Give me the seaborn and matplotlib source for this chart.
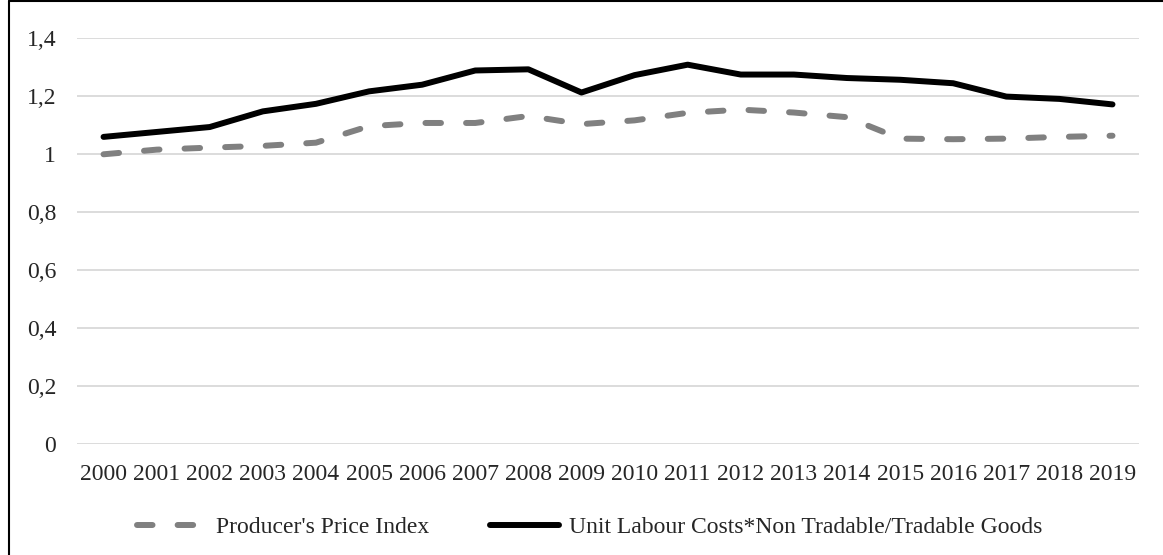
import pandas as pd
import seaborn as sns
import matplotlib.pyplot as plt
from matplotlib.lines import Line2D

years = list(range(2000, 2020))
ppi = [1.0, 1.016, 1.023, 1.029, 1.04, 1.097, 1.108, 1.108, 1.132, 1.104,
       1.117, 1.143, 1.154, 1.144, 1.128, 1.054, 1.052, 1.054, 1.06, 1.064]
ulc = [1.06, 1.077, 1.094, 1.148, 1.174, 1.217, 1.24, 1.289, 1.293, 1.213,
       1.273, 1.309, 1.275, 1.275, 1.263, 1.257, 1.245, 1.199, 1.191, 1.172]
lab_ppi = "Producer's Price Index"
lab_ulc = "Unit Labour Costs*Non Tradable/Tradable Goods"
yticks = [0, 0.2, 0.4, 0.6, 0.8, 1.0, 1.2, 1.4]
ytick_labels = ["0", "0,2", "0,4", "0,6", "0,8", "1", "1,2", "1,4"]

df = pd.DataFrame({"year": years * 2,
                   "value": ppi + ulc,
                   "series": [lab_ppi] * len(years) + [lab_ulc] * len(years)})

sns.set_style("white")
plt.rcParams['font.family'] = ['Liberation Serif', 'DejaVu Serif']

fig = plt.figure(figsize=(11.63, 5.55), dpi=100)
ax = fig.add_axes([0.0662, 0.1995, 0.9132, 0.7315])

lw = 4.3
dash = (2.6, 4.2)
sns.lineplot(data=df, x="year", y="value", hue="series", style="series",
             palette={lab_ppi: "#808080", lab_ulc: "black"},
             dashes={lab_ppi: dash, lab_ulc: ""},
             linewidth=lw, ax=ax, legend=False)
for ln in ax.lines:
    ln.set_dash_capstyle("round")
    ln.set_solid_capstyle("round")
    ln.set_solid_joinstyle("round")

ax.set_xlim(1999.5, 2019.5)
ax.set_ylim(0, 1.4)
ax.set_xticks(years)
ax.set_xticklabels([str(y) for y in years], fontsize=17)
ax.set_yticks(yticks)
ax.set_yticklabels(ytick_labels, fontsize=17)
ax.yaxis.grid(True, color="#d9d9d9", linewidth=1.3)
ax.set_axisbelow(True)
ax.set_xlabel("")
ax.set_ylabel("")
for s in ax.spines.values():
    s.set_visible(False)
ax.tick_params(axis="x", length=0, pad=14)
ax.tick_params(axis="y", length=0, pad=15)

handles = [Line2D([], [], color="#808080", linewidth=lw, dashes=dash,
                  dash_capstyle="round"),
           Line2D([], [], color="black", linewidth=lw, solid_capstyle="round")]
fig.legend(handles, [lab_ppi, lab_ulc], loc="center", bbox_to_anchor=(0.507, 0.05),
           ncol=2, frameon=False, fontsize=17, handlelength=2.9,
           columnspacing=2.6, handletextpad=0.45)

# frame of the chart (left and top edges visible in the reference)
fig.add_artist(Line2D([0.008, 0.008], [0, 0.998], transform=fig.transFigure,
                      color="black", linewidth=1.5))
fig.add_artist(Line2D([0.008, 1.0], [0.998, 0.998], transform=fig.transFigure,
                      color="black", linewidth=1.5))

fig.savefig("out.png", dpi=100)
